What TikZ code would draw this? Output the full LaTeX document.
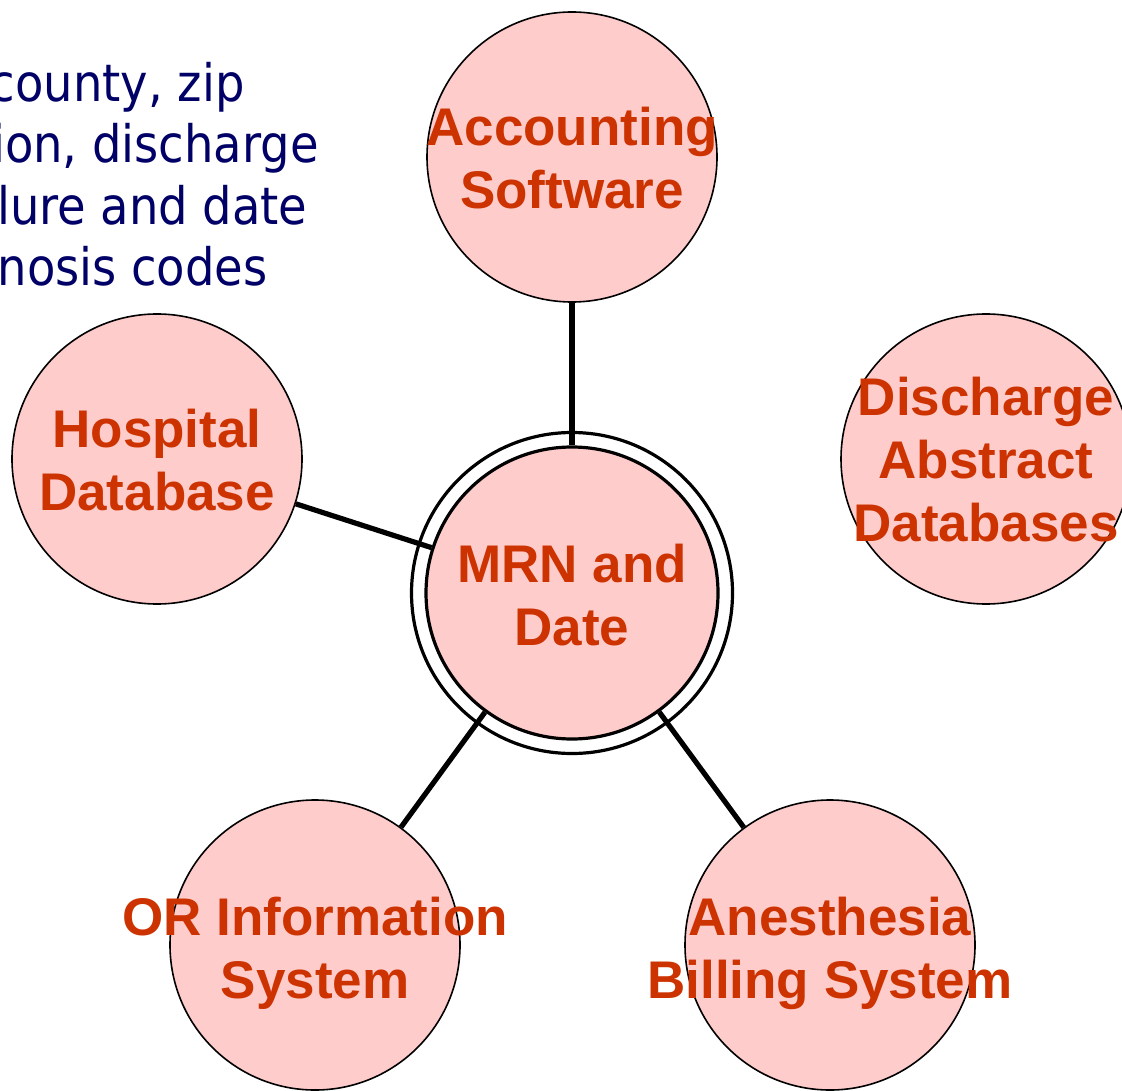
\documentclass[tikz,border=0pt]{standalone}
\usepackage{fontspec}
\setmainfont{Liberation Sans}
\newfontfamily\notefont{DejaVu Sans Condensed}
\definecolor{lblred}{RGB}{204,51,0}
\definecolor{pinkfill}{RGB}{255,204,204}
\definecolor{navytext}{RGB}{0,0,102}
\begin{document}
\begin{tikzpicture}[x=0.5pt,y=-0.5pt,
  bubble/.style={circle,draw=black,fill=pinkfill,line width=0.8pt,minimum size=145pt,inner sep=0pt},
  hubinner/.style={circle,draw=black,fill=pinkfill,line width=1.6pt,minimum size=146pt,inner sep=0pt},
  hubouter/.style={circle,draw=black,fill=white,line width=1.6pt,minimum size=160.5pt,inner sep=0pt},
  lbl/.style={text=lblred,font=\bfseries\fontsize{26.5}{31.5}\selectfont,align=center,inner sep=0pt},
  note/.style={text=navytext,font=\notefont\fontsize{25.8}{31}\selectfont,inner sep=0pt,anchor=base east},
  link/.style={draw=black,line width=2.6pt}]
\useasboundingbox (0,0) rectangle (1122,1090);
\clip (0,0) rectangle (1122,1090);
% notes
\node[note] (n1) at (245,102) {county, zip};
\node[note] (n2) at (319,163) {ion, discharge};
\node[note] (n3) at (308,225) {lure and date};
\node[note] (n4) at (268,286) {nosis codes};
% circles
\node[bubble] (acct) at (572,157) {};
\node[bubble] (hosp) at (157,459) {};
\node[bubble] (disc) at (986,459) {};
\node[bubble] (ors) at (315,945) {};
\node[bubble] (anes) at (830,945) {};
\node[hubouter] (mrnout) at (572,593) {};
\node[hubinner] (mrn) at (572,593) {};
% connectors
\draw[link] (acct) -- (mrn);
\draw[link] (hosp) -- (mrn);
\draw[link] (ors) -- (mrn);
\draw[link] (anes) -- (mrn);
% labels
\node[lbl] (acctl) at (572,158) {Accounting\\Software};
\node[lbl] (hospl) at (157,460) {Hospital\\Database};
\node[lbl] (discl) at (986,460) {Discharge\\Abstract\\Databases};
\node[lbl] (orsl) at (315,953) {OR Information\\System};
\node[lbl] (anesl) at (830,953) {Anesthesia\\Billing System};
\node[lbl] (mrnl) at (572,595) {MRN and\\Date};
\end{tikzpicture}
\end{document}
